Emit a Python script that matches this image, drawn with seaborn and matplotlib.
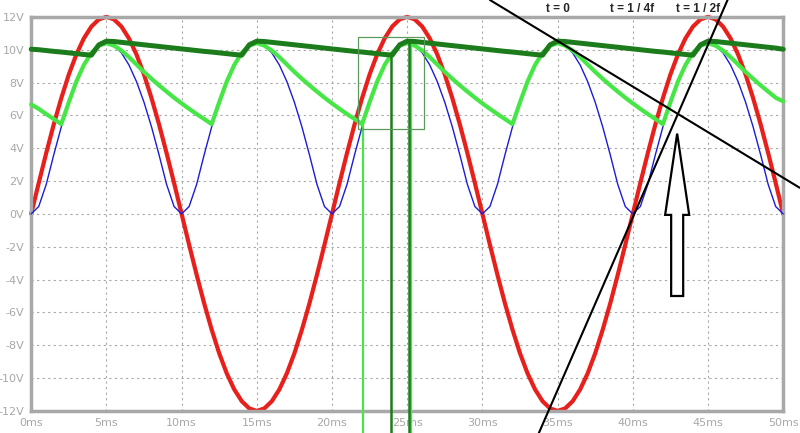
import numpy as np
import pandas as pd
import matplotlib
matplotlib.use('Agg')
import matplotlib.pyplot as plt
import seaborn as sns

# sample times (ms), one value every 0.5 ms
time_ms = np.linspace(0, 50, 101)

# source voltage (red), 0.5 ms steps
v_source = [
    0, 1.88, 3.71, 5.45, 7.05, 8.49, 9.71, 10.69, 11.41, 11.85, 12.0, 11.85, 11.41, 10.69, 9.71, 8.49, 7.05, 5.45, 3.71, 1.88,
    0, -1.88, -3.71, -5.45, -7.05, -8.49, -9.71, -10.69, -11.41, -11.85, -12.0, -11.85, -11.41, -10.69, -9.71, -8.49, -7.05, -5.45, -3.71, -1.88,
    0, 1.88, 3.71, 5.45, 7.05, 8.49, 9.71, 10.69, 11.41, 11.85, 12.0, 11.85, 11.41, 10.69, 9.71, 8.49, 7.05, 5.45, 3.71, 1.88,
    0, -1.88, -3.71, -5.45, -7.05, -8.49, -9.71, -10.69, -11.41, -11.85, -12.0, -11.85, -11.41, -10.69, -9.71, -8.49, -7.05, -5.45, -3.71, -1.88,
    0, 1.88, 3.71, 5.45, 7.05, 8.49, 9.71, 10.69, 11.41, 11.85, 12.0, 11.85, 11.41, 10.69, 9.71, 8.49, 7.05, 5.45, 3.71, 1.88,
    0,
]

# rectified output, no capacitor (blue)
v_rectified = [
    0, 0.45, 1.8, 3.6, 5.3, 6.8, 8.06, 9.07, 9.81, 10.25, 10.4, 10.25, 9.81, 9.07, 8.06, 6.8, 5.3, 3.6, 1.8, 0.45,
    0, 0.45, 1.8, 3.6, 5.3, 6.8, 8.06, 9.07, 9.81, 10.25, 10.4, 10.25, 9.81, 9.07, 8.06, 6.8, 5.3, 3.6, 1.8, 0.45,
    0, 0.45, 1.8, 3.6, 5.3, 6.8, 8.06, 9.07, 9.81, 10.25, 10.4, 10.25, 9.81, 9.07, 8.06, 6.8, 5.3, 3.6, 1.8, 0.45,
    0, 0.45, 1.8, 3.6, 5.3, 6.8, 8.06, 9.07, 9.81, 10.25, 10.4, 10.25, 9.81, 9.07, 8.06, 6.8, 5.3, 3.6, 1.8, 0.45,
    0, 0.45, 1.8, 3.6, 5.3, 6.8, 8.06, 9.07, 9.81, 10.25, 10.4, 10.25, 9.81, 9.07, 8.06, 6.8, 5.3, 3.6, 1.8, 0.45,
    0,
]

# small smoothing capacitor (light green)
v_small_cap = [
    6.67, 6.4, 6.08, 5.78, 5.47, 6.8, 8.06, 9.07, 9.81, 10.25, 10.4, 10.25, 9.95, 9.55, 9.1, 8.65, 8.23, 7.83, 7.45, 7.08,
    6.73, 6.4, 6.08, 5.78, 5.47, 6.8, 8.06, 9.07, 9.81, 10.25, 10.4, 10.25, 9.95, 9.55, 9.1, 8.65, 8.23, 7.83, 7.45, 7.08,
    6.73, 6.4, 6.08, 5.78, 5.47, 6.8, 8.06, 9.07, 9.81, 10.25, 10.4, 10.25, 9.95, 9.55, 9.1, 8.65, 8.23, 7.83, 7.45, 7.08,
    6.73, 6.4, 6.08, 5.78, 5.47, 6.8, 8.06, 9.07, 9.81, 10.25, 10.4, 10.25, 9.95, 9.55, 9.1, 8.65, 8.23, 7.83, 7.45, 7.08,
    6.73, 6.4, 6.08, 5.78, 5.47, 6.8, 8.06, 9.07, 9.81, 10.25, 10.4, 10.25, 9.95, 9.55, 9.1, 8.65, 8.23, 7.83, 7.45, 7.08,
    6.85,
]

# large smoothing capacitor (dark green)
v_large_cap = [
    10.03, 10.0, 9.95, 9.9, 9.86, 9.81, 9.76, 9.71, 9.67, 10.3, 10.52, 10.5, 10.45, 10.4, 10.35, 10.3, 10.25, 10.2, 10.15, 10.1,
    10.05, 10.0, 9.95, 9.9, 9.86, 9.81, 9.76, 9.71, 9.67, 10.3, 10.52, 10.5, 10.45, 10.4, 10.35, 10.3, 10.25, 10.2, 10.15, 10.1,
    10.05, 10.0, 9.95, 9.9, 9.86, 9.81, 9.76, 9.71, 9.67, 10.3, 10.52, 10.5, 10.45, 10.4, 10.35, 10.3, 10.25, 10.2, 10.15, 10.1,
    10.05, 10.0, 9.95, 9.9, 9.86, 9.81, 9.76, 9.71, 9.67, 10.3, 10.52, 10.5, 10.45, 10.4, 10.35, 10.3, 10.25, 10.2, 10.15, 10.1,
    10.05, 10.0, 9.95, 9.9, 9.86, 9.81, 9.76, 9.71, 9.67, 10.3, 10.52, 10.5, 10.45, 10.4, 10.35, 10.3, 10.25, 10.2, 10.15, 10.1,
    10.03,
]

x_ticks = [0, 5, 10, 15, 20, 25, 30, 35, 40, 45, 50]
x_labels = ['0ms', '5ms', '10ms', '15ms', '20ms', '25ms', '30ms', '35ms', '40ms', '45ms', '50ms']
y_ticks = [-12, -10, -8, -6, -4, -2, 0, 2, 4, 6, 8, 10, 12]
y_labels = ['-12V', '-10V', '-8V', '-6V', '-4V', '-2V', '0V', '2V', '4V', '6V', '8V', '10V', '12V']

# annotations (data units)
marker_labels = ['t = 0', 't = 1 / 4f', 't = 1 / 2f']
marker_label_x = [35.0, 39.95, 44.35]
tangent_falling = ([30.5, 51.1], [13.03, 1.59])
tangent_rising = ([33.7, 46.3], [-13.46, 13.03])
cursor_light_x = [22.05, 25.27]
cursor_light_top = [5.5, 10.3]
cursor_dark_x = [23.92, 25.09]
cursor_dark_top = [9.68, 10.52]
zoom_box = (21.75, 5.2, 26.15, 10.8)  # x0, y0, x1, y1
arrow_x, arrow_bottom, arrow_tip = 42.95, -5.0, 4.89

GREY = '#a8a8a8'
RED = '#e8201c'
BLUE = '#1c1cd8'
LIGHT_GREEN = '#46e646'
DARK_GREEN = '#1c7c1c'

df = pd.DataFrame({'t': time_ms, 'src': v_source, 'rect': v_rectified,
                   'small': v_small_cap, 'large': v_large_cap})

sns.set_style('white')
fig = plt.figure(figsize=(8, 4.33), dpi=100)
ax = fig.add_axes([0.039, 0.051, 0.940, 0.910])

sns.lineplot(data=df, x='t', y='src', ax=ax, color=RED, lw=3.0, zorder=2)
sns.lineplot(data=df, x='t', y='rect', ax=ax, color=BLUE, lw=1.0, zorder=3)
sns.lineplot(data=df, x='t', y='small', ax=ax, color=LIGHT_GREEN, lw=3.0, zorder=4)
sns.lineplot(data=df, x='t', y='large', ax=ax, color=DARK_GREEN, lw=3.6, zorder=5)
for ln in ax.lines:
    ln.set_clip_on(False)
    ln.set_solid_joinstyle('round')
    ln.set_solid_capstyle('round')

ax.set_xlim(0, 50)
ax.set_ylim(-12, 12)
ax.set_xticks(x_ticks)
ax.set_xticklabels(x_labels)
ax.set_yticks(y_ticks)
ax.set_yticklabels(y_labels)
ax.set_xlabel('')
ax.set_ylabel('')
ax.grid(True, color=GREY, linestyle=(0, (2, 3)), lw=0.8)
ax.tick_params(colors=GREY, labelcolor=GREY, labelsize=8, length=4, width=2.5,
               direction='out', pad=1)
for sp in ax.spines.values():
    sp.set_color(GREY)
    sp.set_linewidth(2.5)
    sp.set_visible(True)

# cursor lines running down past the axis
y_bottom = -13.5
for x, top in zip(cursor_light_x, cursor_light_top):
    ax.plot([x, x], [top, y_bottom], color=LIGHT_GREEN, lw=1.6, clip_on=False, zorder=6)
for x, top in zip(cursor_dark_x, cursor_dark_top):
    ax.plot([x, x], [top, y_bottom], color=DARK_GREEN, lw=1.8, clip_on=False, zorder=6)

x0, y0, x1, y1 = zoom_box
ax.add_patch(plt.Rectangle((x0, y0), x1 - x0, y1 - y0, fill=False,
                           ec='#5a9a5a', lw=0.9, zorder=6))

# tangent lines
ax.plot(*tangent_falling, color='black', lw=1.5, clip_on=False, zorder=7)
ax.plot(*tangent_rising, color='black', lw=1.5, clip_on=False, zorder=7)

for lbl, x in zip(marker_labels, marker_label_x):
    ax.text(x, 12.45, lbl, ha='center', va='center', fontsize=8.5,
            fontweight='bold', family='Liberation Sans', clip_on=False)

ax.arrow(arrow_x, arrow_bottom, 0, arrow_tip - arrow_bottom, width=0.8,
         head_width=1.6, head_length=4.95, length_includes_head=True,
         fc='white', ec='black', lw=1.6, zorder=8)

fig.savefig('out.png', dpi=100)
